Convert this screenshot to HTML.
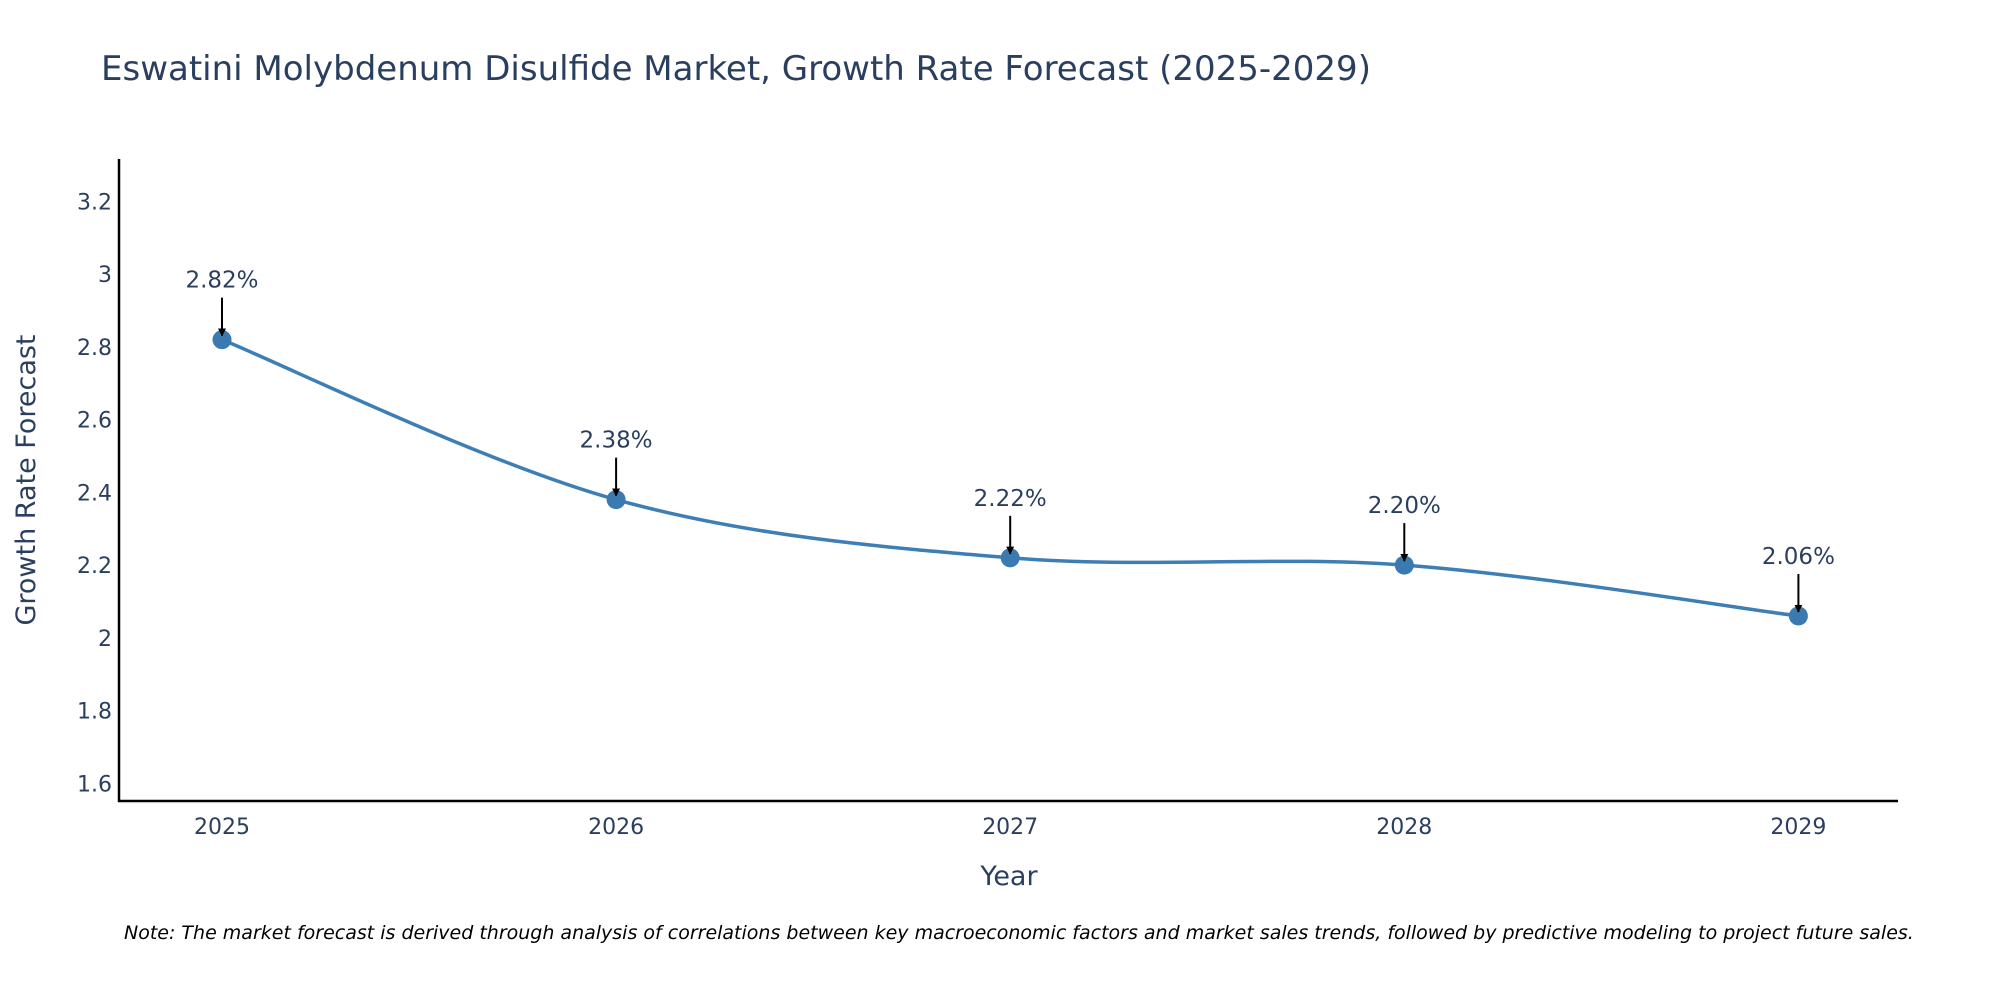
<!DOCTYPE html>
<html><head><meta charset="utf-8">
<style>
html,body{margin:0;padding:0;background:#fff;width:2000px;height:1000px;overflow:hidden}
svg text{font-family:"DejaVu Sans","Liberation Sans",sans-serif;fill:#2a3f5f}
</style></head>
<body>
<svg id="chart" width="2000" height="1000" xmlns="http://www.w3.org/2000/svg">
<defs><marker id="ah" viewBox="0 0 10 10" refX="9" refY="5" markerWidth="8" markerHeight="8" markerUnits="userSpaceOnUse" orient="auto"><path d="M0,0 L10,5 L0,10 z" fill="#000"/></marker></defs>
<text x="101" y="80" font-size="34">Eswatini Molybdenum Disulfide Market, Growth Rate Forecast (2025-2029)</text>
<g id="yticks"></g>
<g id="xticks"></g>
<line x1="119" y1="159" x2="119" y2="802" stroke="#000" stroke-width="2.5"/>
<line x1="118" y1="801" x2="1898" y2="801" stroke="#000" stroke-width="2.5"/>
<g id="series"></g>
<text transform="translate(35,480) rotate(-90)" text-anchor="middle" font-size="27">Growth Rate Forecast</text>
<text x="1009" y="885" text-anchor="middle" font-size="27">Year</text>
<text x="124" y="939" font-size="19" font-style="italic" style="fill:#000">Note: The market forecast is derived through analysis of correlations between key macroeconomic factors and market sales trends, followed by predictive modeling to project future sales.</text>
</svg>
<script>
const years = ["2025","2026","2027","2028","2029"];
const values = [2.82, 2.38, 2.22, 2.20, 2.06];
const labels = ["2.82%","2.38%","2.22%","2.20%","2.06%"];
const yTicks = [1.6,1.8,2,2.2,2.4,2.6,2.8,3,3.2];
const yTickLabels = ["1.6","1.8","2","2.2","2.4","2.6","2.8","3","3.2"];

const NS="http://www.w3.org/2000/svg";
function xs(i){return 222 + i*394.1;}
function ys(v){return 201.5 + (3.2-v)*363.6;}
function mk(tag,attrs,parent){const e=document.createElementNS(NS,tag);for(const k in attrs)e.setAttribute(k,attrs[k]);parent.appendChild(e);return e;}

const yg=document.getElementById('yticks');
yTicks.forEach((t,i)=>{
  const tx=mk('text',{x:112,y:ys(t)+8,'text-anchor':'end','font-size':'22'},yg);
  
  
  tx.textContent=yTickLabels[i];
});
const xg=document.getElementById('xticks');
years.forEach((y,i)=>{
  const tx=mk('text',{x:xs(i),y:834,'text-anchor':'middle','font-size':'22'},xg);
  
  
  tx.textContent=y;
});

const sg=document.getElementById('series');
const pts=values.map((v,i)=>[xs(i),ys(v)]);
let d=`M${pts[0][0]},${pts[0][1]}`;
const tension=0.5;
for(let i=0;i<pts.length-1;i++){
  const p0=pts[i-1]||pts[i],p1=pts[i],p2=pts[i+1],p3=pts[i+2]||p2;
  const c1=[p1[0]+(p2[0]-p0[0])*tension/3,p1[1]+(p2[1]-p0[1])*tension/3];
  const c2=[p2[0]-(p3[0]-p1[0])*tension/3,p2[1]-(p3[1]-p1[1])*tension/3];
  d+=` C${c1[0]},${c1[1]} ${c2[0]},${c2[1]} ${p2[0]},${p2[1]}`;
}
const line=mk('path',{d:d,fill:'none',stroke:'#3d7fb4','stroke-width':'3.5'},sg);


pts.forEach((p,i)=>{
  const c=mk('circle',{cx:p[0],cy:p[1],r:9.5,fill:'#3a7ab0'},sg);
  
  
  const a=mk('line',{x1:p[0],y1:p[1]-42,x2:p[0],y2:p[1]-4,stroke:'#000','stroke-width':'2','marker-end':'url(#ah)'},sg);
  
  
  const t=mk('text',{x:p[0],y:p[1]-52,'text-anchor':'middle','font-size':'23'},sg);
  
  
  t.textContent=labels[i];
});
</script>
</body></html>
